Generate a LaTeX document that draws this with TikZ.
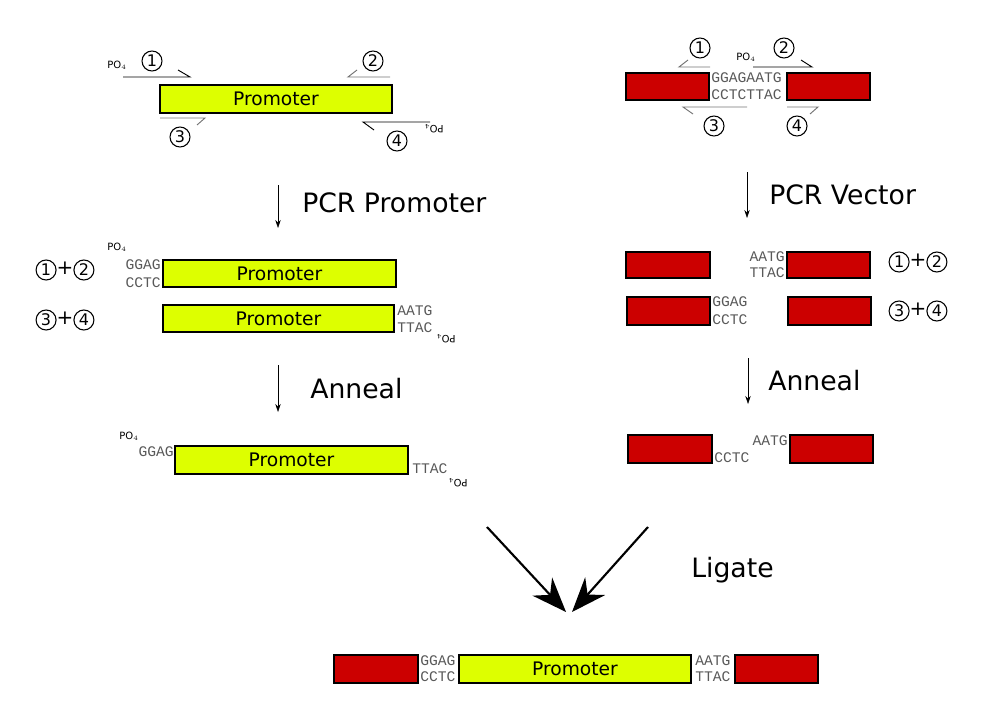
\documentclass[tikz,border=0pt]{standalone}
\usepackage{fontspec}
\setmainfont{DejaVu Sans}
\newfontfamily\seqf{Liberation Mono}
\usetikzlibrary{arrows.meta}
\definecolor{prom}{HTML}{DDFF00}
\definecolor{vec}{HTML}{CC0000}
\tikzset{
 pbox/.style={draw=black,fill=prom,thick},
 vbox/.style={draw=black,fill=vec,thick},
 seq/.style={inner sep=0pt,text=black!65,font=\seqf\fontsize{11}{13}\selectfont,align=left},
 lbl/.style={inner sep=0pt,font=\fontsize{20}{24}\selectfont},
 pt/.style={inner sep=0pt,font=\fontsize{14}{16}\selectfont},
 cn/.style={circle,draw,thick,inner sep=0pt,minimum size=15pt,font=\fontsize{12}{12}\selectfont},
 po/.style={inner sep=0pt,font=\fontsize{7.5}{9}\selectfont},
 pr/.style={line width=0.7pt},
 prg/.style={line width=0.7pt,draw=black!55},
 ar/.style={-{Stealth[length=6pt,width=4pt]},thin},
 bigar/.style={-{Stealth[length=26pt,width=20pt]},line width=1.6pt},
}
\newcommand{\cnum}[2]{\node[cn] at #1 {#2};}
\newcommand{\PO}{PO$_4$}
\begin{document}
\begin{tikzpicture}[x=0.75pt,y=-0.75pt]
\useasboundingbox (0,0) rectangle (982,724);
% ---------- top left
\draw[pbox] (160,85) rectangle (392,113) node[pt,midway] (p1) {Promoter};
\draw[pr] (123,77) -- (190,77) -- (178,70);
\draw[prg] (390,77) -- (348,77) -- (357,70);
\draw[prg] (160,118) -- (205,118) -- (197,125);
\draw[pr] (430,122) -- (363,122) -- (374,130);
\node[po] (po1) at (117,65) {\PO};
\node[po,rotate=180] (po2) at (434,129) {\PO};
\cnum{(152,61)}{1}\cnum{(373,61)}{2}\cnum{(180,137)}{3}\cnum{(397,141)}{4}
% ---------- top right
\draw[vbox] (626,73) rectangle (709,100);
\draw[vbox] (787,73) rectangle (870,100);
\node[seq,anchor=west] (s1) at (711,78) {GGAGAATG};
\node[seq,anchor=west] (s2) at (711,95) {CCTCTTAC};
\draw[prg] (710,67) -- (679,67) -- (688,60);
\draw[pr] (753,67) -- (812,67) -- (801,60);
\draw[prg] (747,107) -- (683,107) -- (693,114);
\draw[prg] (787,107) -- (818,107) -- (810,114);
\node[po] (po3) at (746,57) {\PO};
\cnum{(700,48)}{1}\cnum{(784,48)}{2}\cnum{(714,126)}{3}\cnum{(797,126)}{4}
% ---------- arrows 1
\coordinate (a1s) at (278,185); \coordinate (a1e) at (278,228);
\draw[ar] (a1s) -- (a1e);
\node[lbl,anchor=west] (l1) at (302,203) {PCR Promoter};
\coordinate (a2s) at (747,172); \coordinate (a2e) at (747,218);
\draw[ar] (a2s) -- (a2e);
\node[lbl,anchor=west] (l2) at (769,195) {PCR Vector};
% ---------- row 2/3 left
\draw[pbox] (163,260) rectangle (396,287) node[pt,midway] {Promoter};
\node[seq,anchor=east] at (161,265) {GGAG};
\node[seq,anchor=east] at (161,283) {CCTC};
\node[po] at (117,247) {\PO};
\node[lbl,font=\fontsize{15}{15}\selectfont] at (65,270) {\tikz[baseline=-3pt]\node[cn]{1};+\tikz[baseline=-3pt]\node[cn]{2};};
\draw[pbox] (163,305) rectangle (394,332) node[pt,midway] {Promoter};
\node[seq,anchor=west] at (397,311) {AATG};
\node[seq,anchor=west] at (397,328) {TTAC};
\node[po,rotate=180] at (446,339) {\PO};
\node[lbl,font=\fontsize{15}{15}\selectfont] at (65,320) {\tikz[baseline=-3pt]\node[cn]{3};+\tikz[baseline=-3pt]\node[cn]{4};};
% ---------- row 2/3 right
\draw[vbox] (626,252) rectangle (710,278);
\draw[vbox] (787,252) rectangle (870,278);
\node[seq,anchor=east] at (785,257) {AATG};
\node[seq,anchor=east] at (785,273) {TTAC};
\node[lbl,font=\fontsize{15}{15}\selectfont] at (918,262) {\tikz[baseline=-3pt]\node[cn]{1};+\tikz[baseline=-3pt]\node[cn]{2};};
\draw[vbox] (627,297) rectangle (710,325);
\draw[vbox] (788,297) rectangle (871,325);
\node[seq,anchor=west] at (712,302) {GGAG};
\node[seq,anchor=west] at (712,320) {CCTC};
\node[lbl,font=\fontsize{15}{15}\selectfont] at (918,311) {\tikz[baseline=-3pt]\node[cn]{3};+\tikz[baseline=-3pt]\node[cn]{4};};
% ---------- anneal
\coordinate (a3s) at (278,365); \coordinate (a3e) at (278,412);
\draw[ar] (a3s) -- (a3e);
\node[lbl,anchor=west] (l3) at (310,389) {Anneal};
\coordinate (a4s) at (748,358); \coordinate (a4e) at (748,404);
\draw[ar] (a4s) -- (a4e);
\node[lbl,anchor=west] (l4) at (768,381) {Anneal};
% ---------- row 4
\draw[pbox] (175,446) rectangle (408,474) node[pt,midway] {Promoter};
\node[seq,anchor=east] at (174,452) {GGAG};
\node[po] at (129,436) {\PO};
\node[seq,anchor=west] at (412,469) {TTAC};
\node[po,rotate=180] at (458,483) {\PO};
\draw[vbox] (628,435) rectangle (712,463);
\draw[vbox] (790,435) rectangle (873,463);
\node[seq,anchor=west] at (714,458) {CCTC};
\node[seq,anchor=east] at (788,441) {AATG};
% ---------- ligate
\coordinate (b1s) at (487,527); \coordinate (b2s) at (648,527);
\coordinate (be1) at (566,612); \coordinate (be2) at (572,612);
\draw[bigar] (b1s) -- (be1);
\draw[bigar] (b2s) -- (be2);
\node[lbl,anchor=west] (l5) at (691,570) {Ligate};
% ---------- bottom
\draw[vbox] (334,655) rectangle (418,683);
\node[seq,anchor=west] at (420,661) {GGAG};
\node[seq,anchor=west] at (420,677) {CCTC};
\draw[pbox] (459,655) rectangle (691,683) node[pt,midway] {Promoter};
\node[seq,anchor=west] at (695,661) {AATG};
\node[seq,anchor=west] at (695,677) {TTAC};
\draw[vbox] (735,655) rectangle (818,683);
\end{tikzpicture}
\end{document}
